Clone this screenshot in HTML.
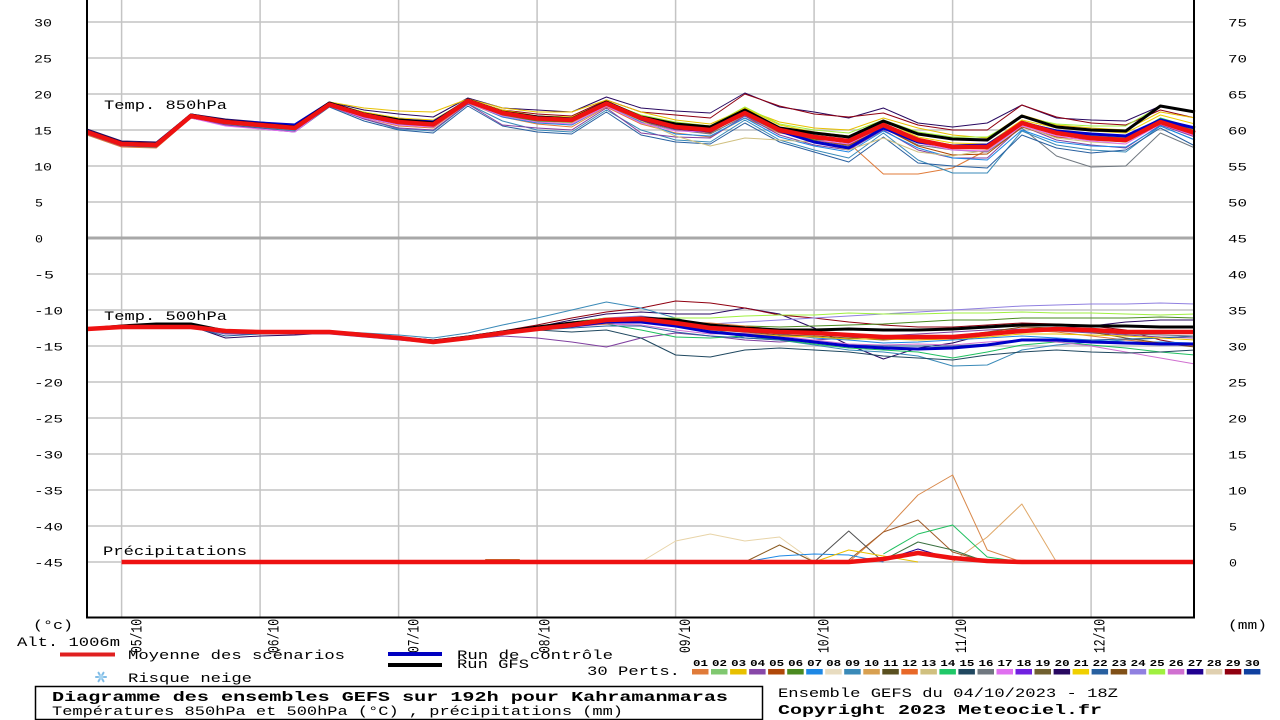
<!DOCTYPE html>
<html><head><meta charset="utf-8"><style>
html,body{margin:0;padding:0;background:#fff;}
svg{display:block;}
text{font-family:"Liberation Mono","DejaVu Sans Mono",monospace;font-size:13px;fill:#000;}
.t{font-size:11px;}
.dt{font-size:16px;}
.b{font-weight:bold;font-size:14px;}
.s{font-weight:bold;font-size:9px;}
.d polyline{fill:none;vector-effect:non-scaling-stroke;stroke-linejoin:round;stroke-width:1;}
.d .w{stroke-width:3;}
.d .r{stroke-width:4.5;stroke:#ee1111;}
</style></head><body>
<svg width="1280" height="720" viewBox="0 0 1280 720" xmlns="http://www.w3.org/2000/svg">
<rect width="1280" height="720" fill="#fff"/>
<!-- grid -->
<g stroke="#c4c4c4" stroke-width="1.5">
<line x1="87" y1="22" x2="1194" y2="22"/><line x1="87" y1="58" x2="1194" y2="58"/><line x1="87" y1="94" x2="1194" y2="94"/><line x1="87" y1="130" x2="1194" y2="130"/><line x1="87" y1="166" x2="1194" y2="166"/><line x1="87" y1="202" x2="1194" y2="202"/>
<line x1="87" y1="274" x2="1194" y2="274"/><line x1="87" y1="310" x2="1194" y2="310"/><line x1="87" y1="346" x2="1194" y2="346"/><line x1="87" y1="382" x2="1194" y2="382"/><line x1="87" y1="418" x2="1194" y2="418"/><line x1="87" y1="454" x2="1194" y2="454"/><line x1="87" y1="490" x2="1194" y2="490"/><line x1="87" y1="526" x2="1194" y2="526"/><line x1="87" y1="562" x2="1194" y2="562"/>
<line x1="121.6" y1="0" x2="121.6" y2="617"/><line x1="260.1" y1="0" x2="260.1" y2="617"/><line x1="398.6" y1="0" x2="398.6" y2="617"/><line x1="537.1" y1="0" x2="537.1" y2="617"/><line x1="675.6" y1="0" x2="675.6" y2="617"/><line x1="814.1" y1="0" x2="814.1" y2="617"/><line x1="952.6" y1="0" x2="952.6" y2="617"/><line x1="1091.1" y1="0" x2="1091.1" y2="617"/>
</g>
<line x1="87" y1="238" x2="1194" y2="238" stroke="#a8a8a8" stroke-width="3"/>

<!-- data -->
<g class="d" transform="translate(87,0) scale(34.625,1)">
<!-- 850 members -->
<polyline stroke="#280860" points="0,129 1,141 2,142 3,114 4,119 5,122 6,125 7,102 8,110 9,114 10,117 11,98 12,108 13,110 14,112 15,97 16,108 17,111 18,113 19,93 20,107 21,112 22,118 23,108 24,123 25,127 26,123 27,105 28,118 29,120 30,121 31,106 32,112"/>
<polyline stroke="#900010" points="0,131 1,143 2,144 3,115 4,121 5,124 6,127 7,103 8,113 9,119 10,121 11,100 12,110 13,114 14,116 15,100 16,112 17,115 18,118 19,94 20,106 21,114 22,117 23,113 24,125 25,130 26,130 27,105 28,117 29,123 30,125 31,110 32,118"/>
<polyline stroke="#e8c000" points="0,134 1,146 2,147 3,117 4,121 5,123 6,124 7,102 8,108 9,111 10,112 11,99 12,108 13,112 14,112 15,100 16,112 17,120 18,124 19,109 20,122 21,128 22,130 23,118 24,128 25,135 26,138 27,115 28,125 29,128 30,130 31,112 32,118"/>
<polyline stroke="#e07b39" points="0,135 1,147 2,148 3,118 4,125 5,128 6,131 7,106 8,118 9,126 10,128 11,103 12,117 13,124 14,127 15,107 16,124 17,133 18,137 19,118 20,133 21,138 22,143 23,174 24,174 25,168 26,150 27,122 28,130 29,136 30,138 31,121 32,130"/>
<polyline stroke="#707880" points="0,133 1,145 2,146 3,117 4,123 5,126 6,129 7,105 8,116 9,124 10,126 11,102 12,116 13,122 14,125 15,106 16,122 17,130 18,134 19,116 20,132 21,140 22,146 23,128 24,145 25,150 26,152 27,128 28,156 29,167 30,166 31,133 32,148"/>
<polyline stroke="#3a8ab8" points="0,133 1,146 2,147 3,118 4,124 5,127 6,131 7,106 8,119 9,129 10,131 11,104 12,121 13,130 14,132 15,110 16,130 17,140 18,142 19,120 20,140 21,150 22,158 23,133 24,160 25,173 26,173 27,131 28,145 29,150 30,152 31,126 32,140"/>
<polyline stroke="#2860a0" points="0,134 1,146 2,147 3,118 4,125 5,128 6,132 7,107 8,121 9,130 10,133 11,106 12,126 13,132 14,134 15,112 16,135 17,142 18,144 19,123 20,142 21,152 22,162 23,137 24,163 25,166 26,168 27,135 28,148 29,153 30,150 31,128 32,146"/>
<polyline stroke="#8040a0" points="0,134 1,146 2,146 3,117 4,125 5,129 6,132 7,106 8,119 9,128 10,130 11,104 12,125 13,128 14,130 15,108 16,133 17,137 18,138 19,116 20,135 21,145 22,150 23,130 24,150 25,158 26,158 27,126 28,140 29,145 30,148 31,125 32,137"/>
<polyline stroke="#20c060" points="0,132 1,144 2,145 3,116 4,122 5,125 6,128 7,104 8,115 9,121 10,123 11,101 12,112 13,117 14,119 15,103 16,117 17,125 18,128 19,110 20,128 21,135 22,140 23,123 24,140 25,146 26,146 27,122 28,132 29,136 30,138 31,118 32,128"/>
<polyline stroke="#a0f040" points="0,131 1,143 2,144 3,115 4,121 5,124 6,127 7,104 8,114 9,120 10,122 11,100 12,111 13,116 14,117 15,102 16,115 17,122 18,126 19,107 20,124 21,130 22,133 23,120 24,132 25,137 26,137 27,117 28,124 29,126 30,126 31,106 32,112"/>
<polyline stroke="#b04800" points="0,133 1,145 2,146 3,117 4,123 5,126 6,129 7,105 8,117 9,123 10,125 11,102 12,115 13,120 14,122 15,105 16,121 17,129 18,133 19,113 20,130 21,140 22,145 23,128 24,146 25,155 26,154 27,127 28,137 29,140 30,142 31,124 32,136"/>
<polyline stroke="#e86020" points="0,132 1,144 2,145 3,116 4,122 5,124 6,127 7,104 8,115 9,121 10,124 11,101 12,114 13,119 14,120 15,104 16,119 17,128 18,131 19,112 20,131 21,138 22,143 23,127 24,142 25,148 26,149 27,124 28,134 29,140 30,141 31,122 32,134"/>
<polyline stroke="#1e88e5" points="0,133 1,145 2,146 3,117 4,123 5,126 6,130 7,105 8,117 9,124 10,127 11,102 12,117 13,123 14,125 15,105 16,122 17,134 18,136 19,118 20,137 21,146 22,152 23,131 24,148 25,158 26,160 27,130 28,142 29,146 30,147 31,126 32,140"/>
<polyline stroke="#d0c080" points="0,132 1,145 2,146 3,117 4,123 5,126 6,129 7,105 8,116 9,123 10,125 11,102 12,115 13,121 14,123 15,105 16,121 17,136 18,146 19,138 20,140 21,142 22,150 23,138 24,152 25,156 26,150 27,126 28,138 29,142 30,144 31,122 32,134"/>
<polyline stroke="#e070f0" points="0,133 1,145 2,146 3,118 4,126 5,129 6,132 7,106 8,118 9,125 10,127 11,103 12,116 13,122 14,124 15,106 16,123 17,131 18,132 19,114 20,132 21,140 22,144 23,126 24,143 25,150 26,151 27,126 28,136 29,141 30,144 31,124 32,136"/>
<polyline stroke="#4a8a20" points="0,132 1,144 2,145 3,116 4,122 5,125 6,128 7,104 8,116 9,123 10,125 11,102 12,115 13,121 14,122 15,104 16,120 17,128 18,130 19,113 20,132 21,140 22,140 23,124 24,139 25,145 26,144 27,121 28,131 29,134 30,136 31,119 32,131"/>
<polyline stroke="#f0d000" points="0,133 1,145 2,146 3,116 4,121 5,123 6,126 7,103 8,112 9,118 10,120 11,100 12,110 13,116 14,117 15,102 16,116 17,123 18,126 19,108 20,125 21,132 22,136 23,121 24,137 25,143 26,144 27,120 28,128 29,131 30,133 31,115 32,124"/>
<polyline class="w" stroke="#0000c8" points="0,131 1,143 2,144 3,115 4,121 5,123 6,125 7,103 8,114 9,120 10,122 11,101 12,113 13,117 14,119 15,103 16,119 17,128 18,131 19,112 20,131 21,142 22,148 23,128 24,142 25,146 26,145 27,123 28,131 29,134 30,136 31,120 32,128"/>
<polyline class="w" stroke="#000" points="0,131 1,143 2,144 3,115 4,121 5,124 6,127 7,103 8,114 9,120 10,123 11,100 12,112 13,117 14,119 15,102 16,117 17,124 18,127 19,110 20,128 21,133 22,137 23,121 24,134 25,139 26,140 27,116 28,127 29,130 30,131 31,106 32,112"/>
<polyline class="r" points="0,132 1,144 2,145 3,116 4,122 5,125 6,128 7,104.5 8,115 9,122 10,124.5 11,101 12,113 13,118.5 14,120 15,103.5 16,118 17,127 18,130 19,113 20,130 21,137 22,141 23,125 24,140 25,147 26,147 27,123 28,133 29,138 30,140 31,122 32,133"/>

<!-- 500 members -->
<polyline stroke="#280860" points="0,329 1,327 2,326 3,326 4,338 5,336 6,335 7,333 8,336 9,339 10,343 11,338 12,332 13,327 14,320 15,314 16,312 17,314 18,314 19,308 20,314 21,328 22,345 23,359 24,348 25,343 26,334 27,330 28,328 29,326 30,322 31,320 32,320"/>
<polyline stroke="#900010" points="0,330 1,328 2,328 3,328 4,332 5,333 6,333 7,333 8,335 9,337 10,340 11,336 12,331 13,325 14,318 15,312 16,308 17,301 18,303 19,308 20,315 21,318 22,322 23,325 24,327 25,327 26,325 27,323 28,324 29,326 30,330 31,340 32,346"/>
<polyline stroke="#9080e0" points="0,330 1,328 2,328 3,328 4,332 5,333 6,333 7,333 8,335 9,338 10,341 11,337 12,332 13,327 14,322 15,318 16,316 17,320 18,324 19,322 20,320 21,318 22,316 23,314 24,312 25,310 26,308 27,306 28,305 29,304 30,304 31,303 32,304"/>
<polyline stroke="#8040a0" points="0,330 1,328 2,328 3,328 4,334 5,334 6,334 7,334 8,337 9,340 10,343 11,339 12,336 13,338 14,342 15,347 16,338 17,333 18,336 19,340 20,342 21,340 22,338 23,336 24,334 25,332 26,330 27,329 28,331 29,333 30,335 31,337 32,338"/>
<polyline stroke="#3a8ab8" points="0,329 1,327 2,327 3,327 4,331 5,332 6,331 7,331 8,333 9,335 10,338 11,333 12,325 13,318 14,310 15,302 16,308 17,318 18,328 19,338 20,340 21,345 22,350 23,352 24,356 25,366 26,365 27,350 28,345 29,342 30,340 31,338 32,336"/>
<polyline stroke="#20c060" points="0,329 1,327 2,327 3,327 4,331 5,332 6,332 7,332 8,335 9,338 10,341 11,337 12,332 13,328 14,326 15,324 16,330 17,337 18,338 19,336 20,340 21,344 22,348 23,350 24,352 25,358 26,352 27,345 28,342 29,345 30,348 31,352 32,355"/>
<polyline stroke="#d070d0" points="0,330 1,328 2,328 3,328 4,332 5,333 6,333 7,333 8,336 9,339 10,342 11,338 12,333 13,330 14,327 15,324 16,325 17,330 18,334 19,333 20,336 21,340 22,344 23,345 24,344 25,345 26,342 27,340 28,342 29,346 30,352 31,358 32,364"/>
<polyline stroke="#1e88e5" points="0,329 1,327 2,327 3,327 4,333 5,333 6,333 7,333 8,336 9,339 10,342 11,338 12,333 13,327 14,322 15,318 16,318 17,324 18,328 19,330 20,334 21,338 22,340 23,343 24,342 25,340 26,338 27,336 28,338 29,340 30,342 31,342 32,343"/>
<polyline stroke="#a0f040" points="0,329 1,327 2,327 3,327 4,331 5,331 6,331 7,332 8,335 9,338 10,341 11,337 12,332 13,327 14,322 15,318 16,318 17,318 18,318 19,316 20,315 21,315 22,313 23,314 24,314 25,313 26,313 27,312 28,313 29,313 30,314 31,315 32,314"/>
<polyline stroke="#4a8a20" points="0,329 1,327 2,327 3,327 4,331 5,332 6,332 7,332 8,335 9,338 10,341 11,338 12,333 13,328 14,325 15,322 16,322 17,325 18,326 19,326 20,327 21,326 22,325 23,324 24,322 25,320 26,320 27,318 28,318 29,318 30,318 31,317 32,318"/>
<polyline stroke="#e07b39" points="0,330 1,328 2,328 3,328 4,332 5,333 6,333 7,333 8,336 9,339 10,342 11,338 12,334 13,330 14,326 15,324 16,320 17,322 18,323 19,326 20,330 21,333 22,336 23,338 24,340 25,338 26,335 27,330 28,332 29,336 30,340 31,343 32,346"/>
<polyline stroke="#805018" points="0,330 1,328 2,328 3,328 4,332 5,333 6,333 7,333 8,336 9,339 10,342 11,339 12,334 13,330 14,325 15,320 16,319 17,324 18,330 19,332 20,335 21,336 22,338 23,340 24,338 25,336 26,332 27,327 28,328 29,332 30,338 31,343 32,347"/>
<polyline stroke="#2860a0" points="0,329 1,327 2,327 3,327 4,336 5,334 6,333 7,333 8,336 9,339 10,342 11,338 12,333 13,330 14,328 15,326 16,326 17,332 18,336 19,338 20,340 21,342 22,345 23,346 24,346 25,346 26,344 27,340 28,340 29,340 30,339 31,338 32,336"/>
<polyline stroke="#707880" points="0,329 1,327 2,327 3,327 4,331 5,332 6,332 7,332 8,335 9,338 10,341 11,338 12,333 13,328 14,324 15,320 16,321 17,326 18,330 19,331 20,333 21,334 22,336 23,338 24,338 25,338 26,334 27,330 28,331 29,332 30,334 31,335 32,336"/>
<polyline stroke="#e8c000" points="0,329 1,327 2,327 3,327 4,331 5,332 6,332 7,332 8,335 9,338 10,341 11,337 12,332 13,327 14,323 15,319 16,320 17,326 18,332 19,334 20,336 21,337 22,339 23,339 24,340 25,339 26,337 27,334 28,334 29,335 30,336 31,338 32,340"/>
<polyline stroke="#204860" points="0,330 1,328 2,328 3,328 4,332 5,333 6,333 7,333 8,336 9,339 10,342 11,339 12,334 13,330 14,332 15,330 16,338 17,355 18,357 19,350 20,348 21,350 22,352 23,356 24,358 25,360 26,355 27,352 28,350 29,352 30,353 31,352 32,350"/>
<polyline class="w" stroke="#0000c8" points="0,329 1,327 2,327 3,327 4,331 5,332 6,332 7,332 8,335 9,338 10,341 11,338 12,333 13,329 14,326 15,322 16,322 17,326 18,332 19,335 20,338 21,342 22,346 23,348 24,349 25,348 26,345 27,340 28,340 29,342 30,343 31,344 32,344"/>
<polyline class="w" stroke="#000" points="0,329 1,326 2,324 3,324 4,331 5,332 6,332 7,332 8,335 9,338 10,341 11,337 12,332 13,327 14,323 15,320 16,318 17,320 18,325 19,328 20,330 21,330 22,329 23,330 24,330 25,329 26,327 27,325 28,325 29,326 30,326 31,327 32,327"/>
<polyline class="r" points="0,329 1,327 2,327 3,327 4,331 5,332 6,332 7,332 8,335 9,338 10,342 11,338 12,333 13,329 14,325 15,320 16,319 17,323 18,328 19,330 20,332 21,333 22,335 23,337 24,337 25,337 26,334 27,331 28,329 29,330 30,332 31,332 32,332"/>

<!-- precipitation -->
<polyline stroke="#e8d4a8" points="16,562 17,541 18,534 19,541 20,537 21,562"/>
<polyline stroke="#d8884a" points="22,562 23,532 24,495 25,475 26,550 27,562"/>
<polyline stroke="#e0a868" points="25,562 26,537 27,504 28,562"/>
<polyline stroke="#8a5a20" points="19,562 20,545 21,562"/>
<polyline stroke="#a05a28" points="22,560 23,532 24,520 25,552 26,562"/>
<polyline stroke="#505050" points="21,562 22,531 23,562"/>
<polyline stroke="#20c060" points="23,554 24,534 25,525 26,557 27,562"/>
<polyline stroke="#3a7040" points="23,560 24,542 25,550 26,562"/>
<polyline stroke="#1e88e5" points="19,562 20,556 21,554 22,555 23,562"/>
<polyline stroke="#e8c000" points="21,562 22,550 23,556 24,562"/>
<polyline stroke="#200090" points="23,560 24,549 25,559 26,562"/>
<polyline class="w" stroke="#c07030" points="11.5,560.5 12.5,560.5"/>
<polyline class="r" points="1,562 22,562 23,559 24,553 25,558 26,561 27,562 32,562"/>
</g>

<!-- axes -->
<g stroke="#000" stroke-width="2">
<line x1="87" y1="0" x2="87" y2="618"/>
<line x1="1194" y1="0" x2="1194" y2="618"/>
<line x1="86" y1="617.5" x2="1195" y2="617.5"/>
</g>

<!-- left tick labels -->
<g>
<text class="t" x="34" y="26.5" textLength="18" lengthAdjust="spacingAndGlyphs">30</text>
<text class="t" x="34" y="62.5" textLength="18" lengthAdjust="spacingAndGlyphs">25</text>
<text class="t" x="34" y="98.5" textLength="18" lengthAdjust="spacingAndGlyphs">20</text>
<text class="t" x="34" y="134.5" textLength="18" lengthAdjust="spacingAndGlyphs">15</text>
<text class="t" x="34" y="170.5" textLength="18" lengthAdjust="spacingAndGlyphs">10</text>
<text class="t" x="35" y="206.5" textLength="8" lengthAdjust="spacingAndGlyphs">5</text>
<text class="t" x="35" y="242.5" textLength="8" lengthAdjust="spacingAndGlyphs">0</text>
<text class="t" x="34" y="278.5" textLength="20" lengthAdjust="spacingAndGlyphs">-5</text>
<text class="t" x="34" y="314.5" textLength="29" lengthAdjust="spacingAndGlyphs">-10</text>
<text class="t" x="34" y="350.5" textLength="29" lengthAdjust="spacingAndGlyphs">-15</text>
<text class="t" x="34" y="386.5" textLength="29" lengthAdjust="spacingAndGlyphs">-20</text>
<text class="t" x="34" y="422.5" textLength="29" lengthAdjust="spacingAndGlyphs">-25</text>
<text class="t" x="34" y="458.5" textLength="29" lengthAdjust="spacingAndGlyphs">-30</text>
<text class="t" x="34" y="494.5" textLength="29" lengthAdjust="spacingAndGlyphs">-35</text>
<text class="t" x="34" y="530.5" textLength="29" lengthAdjust="spacingAndGlyphs">-40</text>
<text class="t" x="34" y="566.5" textLength="29" lengthAdjust="spacingAndGlyphs">-45</text>
</g>
<!-- right tick labels -->
<g>
<text class="t" x="1228" y="26.5" textLength="19" lengthAdjust="spacingAndGlyphs">75</text>
<text class="t" x="1228" y="62.5" textLength="19" lengthAdjust="spacingAndGlyphs">70</text>
<text class="t" x="1228" y="98.5" textLength="19" lengthAdjust="spacingAndGlyphs">65</text>
<text class="t" x="1228" y="134.5" textLength="19" lengthAdjust="spacingAndGlyphs">60</text>
<text class="t" x="1228" y="170.5" textLength="19" lengthAdjust="spacingAndGlyphs">55</text>
<text class="t" x="1228" y="206.5" textLength="19" lengthAdjust="spacingAndGlyphs">50</text>
<text class="t" x="1228" y="242.5" textLength="19" lengthAdjust="spacingAndGlyphs">45</text>
<text class="t" x="1228" y="278.5" textLength="19" lengthAdjust="spacingAndGlyphs">40</text>
<text class="t" x="1228" y="314.5" textLength="19" lengthAdjust="spacingAndGlyphs">35</text>
<text class="t" x="1228" y="350.5" textLength="19" lengthAdjust="spacingAndGlyphs">30</text>
<text class="t" x="1228" y="386.5" textLength="19" lengthAdjust="spacingAndGlyphs">25</text>
<text class="t" x="1228" y="422.5" textLength="19" lengthAdjust="spacingAndGlyphs">20</text>
<text class="t" x="1228" y="458.5" textLength="19" lengthAdjust="spacingAndGlyphs">15</text>
<text class="t" x="1228" y="494.5" textLength="19" lengthAdjust="spacingAndGlyphs">10</text>
<text class="t" x="1229" y="530.5" textLength="8" lengthAdjust="spacingAndGlyphs">5</text>
<text class="t" x="1229" y="566.5" textLength="8" lengthAdjust="spacingAndGlyphs">0</text>
</g>

<!-- in-chart labels -->
<text x="104" y="109" textLength="123" lengthAdjust="spacingAndGlyphs">Temp. 850hPa</text>
<text x="104" y="320" textLength="123" lengthAdjust="spacingAndGlyphs">Temp. 500hPa</text>
<text x="103" y="555" textLength="144" lengthAdjust="spacingAndGlyphs">Précipitations</text>

<!-- date labels -->
<g>
<text class="dt" transform="translate(141.5,653) rotate(-90)" textLength="34" lengthAdjust="spacingAndGlyphs">05/10</text>
<text class="dt" transform="translate(278.5,653) rotate(-90)" textLength="34" lengthAdjust="spacingAndGlyphs">06/10</text>
<text class="dt" transform="translate(418.5,653) rotate(-90)" textLength="34" lengthAdjust="spacingAndGlyphs">07/10</text>
<text class="dt" transform="translate(549.5,653) rotate(-90)" textLength="34" lengthAdjust="spacingAndGlyphs">08/10</text>
<text class="dt" transform="translate(690,653) rotate(-90)" textLength="34" lengthAdjust="spacingAndGlyphs">09/10</text>
<text class="dt" transform="translate(828.5,653) rotate(-90)" textLength="34" lengthAdjust="spacingAndGlyphs">10/10</text>
<text class="dt" transform="translate(966,653) rotate(-90)" textLength="34" lengthAdjust="spacingAndGlyphs">11/10</text>
<text class="dt" transform="translate(1104.5,653) rotate(-90)" textLength="34" lengthAdjust="spacingAndGlyphs">12/10</text>
</g>

<text x="33" y="629" textLength="40" lengthAdjust="spacingAndGlyphs">(°c)</text>
<text x="1228" y="629" textLength="39" lengthAdjust="spacingAndGlyphs">(mm)</text>
<text x="17" y="646" textLength="103" lengthAdjust="spacingAndGlyphs">Alt. 1006m</text>

<!-- legend -->
<line x1="60" y1="654.5" x2="115" y2="654.5" stroke="#e02020" stroke-width="4"/>
<text x="128" y="659" textLength="217" lengthAdjust="spacingAndGlyphs">Moyenne des scénarios</text>
<line x1="388" y1="654" x2="442" y2="654" stroke="#0000c0" stroke-width="4"/>
<line x1="388" y1="665" x2="442" y2="665" stroke="#000" stroke-width="4"/>
<text x="457" y="659" textLength="156" lengthAdjust="spacingAndGlyphs">Run de contrôle</text>
<text x="457" y="668" textLength="72" lengthAdjust="spacingAndGlyphs">Run GFS</text>
<text x="587" y="675" textLength="93" lengthAdjust="spacingAndGlyphs">30 Perts.</text>
<g stroke="#80bce6" stroke-width="2" stroke-linecap="round">
<line x1="96" y1="677" x2="106" y2="677"/><line x1="98.5" y1="672.7" x2="103.5" y2="681.3"/><line x1="98.5" y1="681.3" x2="103.5" y2="672.7"/>
</g>
<circle cx="101" cy="677" r="2.5" fill="#a8d4f0"/>
<text x="128" y="682" textLength="124" lengthAdjust="spacingAndGlyphs">Risque neige</text>

<!-- member swatches -->
<g>
<rect x="692" y="669" width="16.5" height="5.5" fill="#e07b39"/>
<rect x="711" y="669" width="16.5" height="5.5" fill="#80c870"/>
<rect x="730.1" y="669" width="16.5" height="5.5" fill="#e8c000"/>
<rect x="749.1" y="669" width="16.5" height="5.5" fill="#8848a8"/>
<rect x="768.1" y="669" width="16.5" height="5.5" fill="#b04808"/>
<rect x="787.2" y="669" width="16.5" height="5.5" fill="#4a8a20"/>
<rect x="806.2" y="669" width="16.5" height="5.5" fill="#1e88e5"/>
<rect x="825.2" y="669" width="16.5" height="5.5" fill="#e8dcc0"/>
<rect x="844.2" y="669" width="16.5" height="5.5" fill="#3a8ab8"/>
<rect x="863.3" y="669" width="16.5" height="5.5" fill="#d8a050"/>
<rect x="882.3" y="669" width="16.5" height="5.5" fill="#5a5020"/>
<rect x="901.3" y="669" width="16.5" height="5.5" fill="#e86828"/>
<rect x="920.4" y="669" width="16.5" height="5.5" fill="#d0c080"/>
<rect x="939.4" y="669" width="16.5" height="5.5" fill="#20c868"/>
<rect x="958.4" y="669" width="16.5" height="5.5" fill="#204860"/>
<rect x="977.5" y="669" width="16.5" height="5.5" fill="#707880"/>
<rect x="996.5" y="669" width="16.5" height="5.5" fill="#e070f0"/>
<rect x="1015.5" y="669" width="16.5" height="5.5" fill="#7020e0"/>
<rect x="1034.5" y="669" width="16.5" height="5.5" fill="#706030"/>
<rect x="1053.6" y="669" width="16.5" height="5.5" fill="#280860"/>
<rect x="1072.6" y="669" width="16.5" height="5.5" fill="#f0d000"/>
<rect x="1091.6" y="669" width="16.5" height="5.5" fill="#2860a0"/>
<rect x="1110.7" y="669" width="16.5" height="5.5" fill="#805018"/>
<rect x="1129.7" y="669" width="16.5" height="5.5" fill="#9080e0"/>
<rect x="1148.7" y="669" width="16.5" height="5.5" fill="#a0f040"/>
<rect x="1167.8" y="669" width="16.5" height="5.5" fill="#d070d0"/>
<rect x="1186.8" y="669" width="16.5" height="5.5" fill="#200090"/>
<rect x="1205.8" y="669" width="16.5" height="5.5" fill="#e0d0b0"/>
<rect x="1224.8" y="669" width="16.5" height="5.5" fill="#900010"/>
<rect x="1243.9" y="669" width="16.5" height="5.5" fill="#1040a0"/>
</g>
<g>
<text class="s" x="693" y="666" textLength="15" lengthAdjust="spacingAndGlyphs">01</text>
<text class="s" x="712" y="666" textLength="15" lengthAdjust="spacingAndGlyphs">02</text>
<text class="s" x="731.1" y="666" textLength="15" lengthAdjust="spacingAndGlyphs">03</text>
<text class="s" x="750.1" y="666" textLength="15" lengthAdjust="spacingAndGlyphs">04</text>
<text class="s" x="769.1" y="666" textLength="15" lengthAdjust="spacingAndGlyphs">05</text>
<text class="s" x="788.2" y="666" textLength="15" lengthAdjust="spacingAndGlyphs">06</text>
<text class="s" x="807.2" y="666" textLength="15" lengthAdjust="spacingAndGlyphs">07</text>
<text class="s" x="826.2" y="666" textLength="15" lengthAdjust="spacingAndGlyphs">08</text>
<text class="s" x="845.2" y="666" textLength="15" lengthAdjust="spacingAndGlyphs">09</text>
<text class="s" x="864.3" y="666" textLength="15" lengthAdjust="spacingAndGlyphs">10</text>
<text class="s" x="883.3" y="666" textLength="15" lengthAdjust="spacingAndGlyphs">11</text>
<text class="s" x="902.3" y="666" textLength="15" lengthAdjust="spacingAndGlyphs">12</text>
<text class="s" x="921.4" y="666" textLength="15" lengthAdjust="spacingAndGlyphs">13</text>
<text class="s" x="940.4" y="666" textLength="15" lengthAdjust="spacingAndGlyphs">14</text>
<text class="s" x="959.4" y="666" textLength="15" lengthAdjust="spacingAndGlyphs">15</text>
<text class="s" x="978.5" y="666" textLength="15" lengthAdjust="spacingAndGlyphs">16</text>
<text class="s" x="997.5" y="666" textLength="15" lengthAdjust="spacingAndGlyphs">17</text>
<text class="s" x="1016.5" y="666" textLength="15" lengthAdjust="spacingAndGlyphs">18</text>
<text class="s" x="1035.5" y="666" textLength="15" lengthAdjust="spacingAndGlyphs">19</text>
<text class="s" x="1054.6" y="666" textLength="15" lengthAdjust="spacingAndGlyphs">20</text>
<text class="s" x="1073.6" y="666" textLength="15" lengthAdjust="spacingAndGlyphs">21</text>
<text class="s" x="1092.6" y="666" textLength="15" lengthAdjust="spacingAndGlyphs">22</text>
<text class="s" x="1111.7" y="666" textLength="15" lengthAdjust="spacingAndGlyphs">23</text>
<text class="s" x="1130.7" y="666" textLength="15" lengthAdjust="spacingAndGlyphs">24</text>
<text class="s" x="1149.7" y="666" textLength="15" lengthAdjust="spacingAndGlyphs">25</text>
<text class="s" x="1168.8" y="666" textLength="15" lengthAdjust="spacingAndGlyphs">26</text>
<text class="s" x="1187.8" y="666" textLength="15" lengthAdjust="spacingAndGlyphs">27</text>
<text class="s" x="1206.8" y="666" textLength="15" lengthAdjust="spacingAndGlyphs">28</text>
<text class="s" x="1225.8" y="666" textLength="15" lengthAdjust="spacingAndGlyphs">29</text>
<text class="s" x="1244.9" y="666" textLength="15" lengthAdjust="spacingAndGlyphs">30</text>
</g>

<!-- title box -->
<rect x="35.5" y="686.5" width="727" height="33" fill="none" stroke="#000" stroke-width="1.5"/>
<text class="b" x="52" y="701" textLength="676" lengthAdjust="spacingAndGlyphs">Diagramme des ensembles GEFS sur 192h pour Kahramanmaras</text>
<text x="52" y="715" textLength="571" lengthAdjust="spacingAndGlyphs">Températures 850hPa et 500hPa (°C) , précipitations (mm)</text>
<text x="778" y="697" textLength="340" lengthAdjust="spacingAndGlyphs">Ensemble GEFS du 04/10/2023 - 18Z</text>
<text class="b" x="778" y="714" textLength="324" lengthAdjust="spacingAndGlyphs">Copyright 2023 Meteociel.fr</text>
</svg>
</body></html>
